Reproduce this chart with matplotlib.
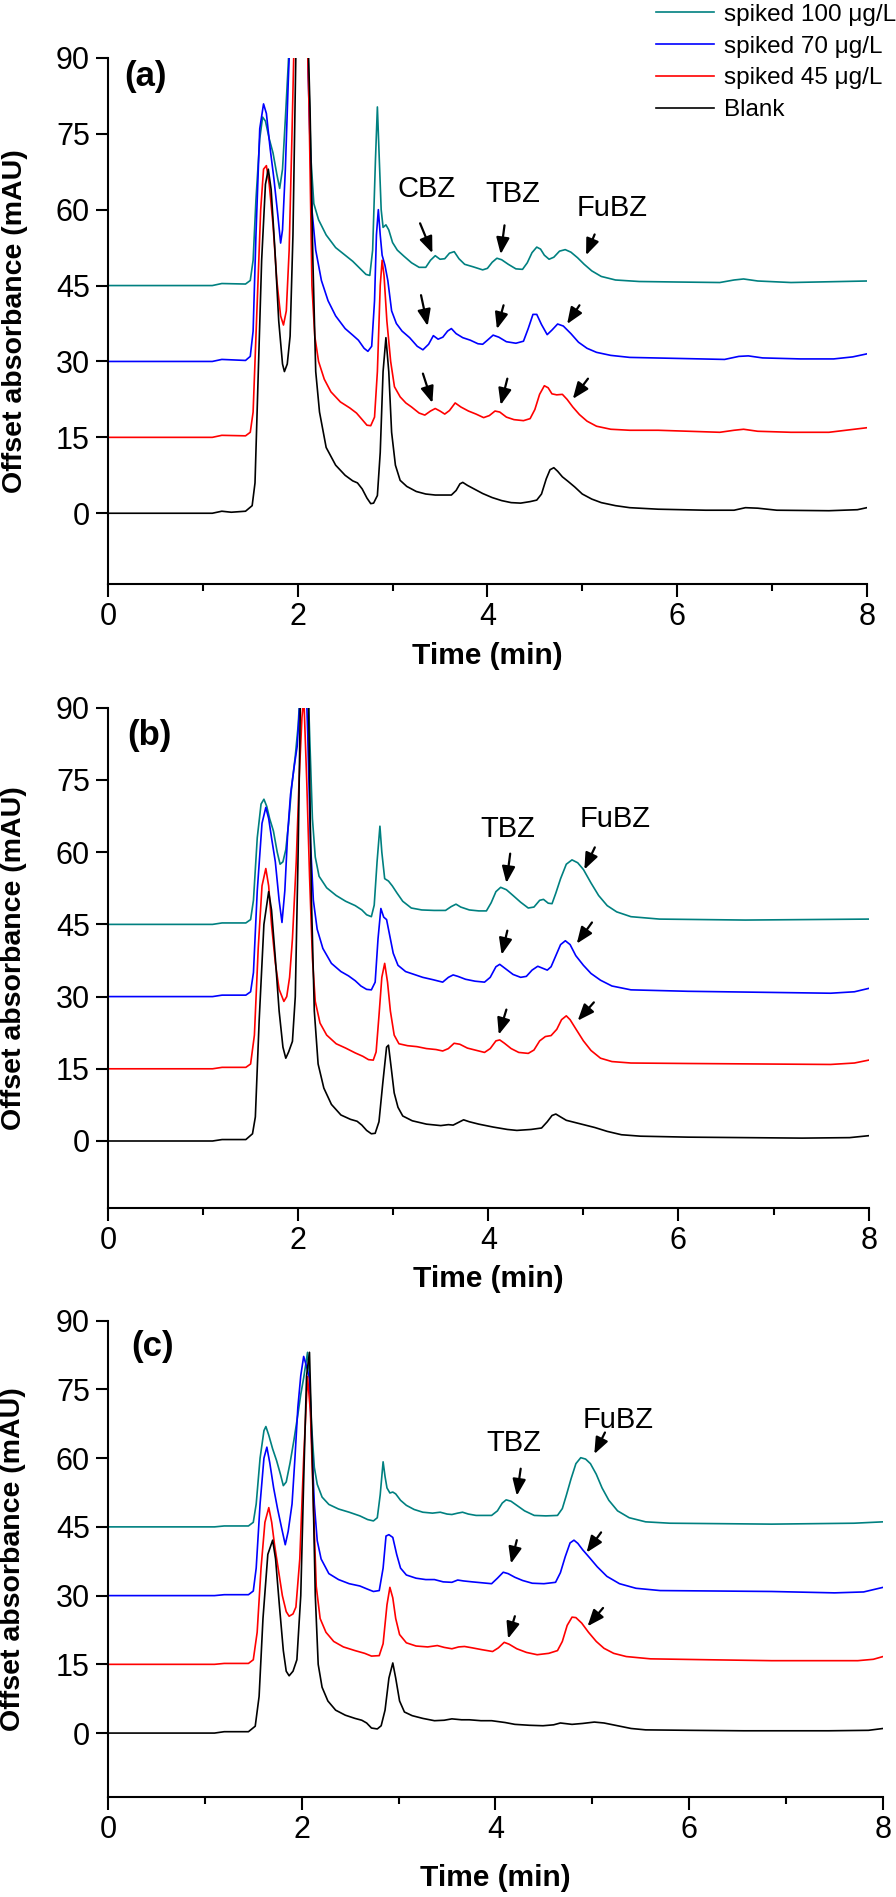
import sys

import matplotlib
matplotlib.use("Agg")
import matplotlib.pyplot as plt
from matplotlib.ticker import MultipleLocator

plt.rcParams['font.family'] = ['Liberation Sans', 'DejaVu Sans']

# ---- series names and colours ----
series_names = ["spiked 100 \u03bcg/L", "spiked 70 \u03bcg/L", "spiked 45 \u03bcg/L", "Blank"]
series_colors = ["#008080", "#0000ff", "#ff0000", "#000000"]

# ---- panel (a): (time min, offset absorbance mAU) ----
a_blank = [(0, 0), (1.1, 0), (1.2, 0.4), (1.3, 0.2), (1.45, 0.4), (1.52, 1.5), (1.55, 6), (1.58, 25), (1.62, 50),
           (1.66, 65), (1.69, 68), (1.72, 64), (1.76, 52), (1.8, 38), (1.84, 29.5), (1.86, 28), (1.89, 29.5),
           (1.92, 35), (1.95, 55), (1.98, 90), (2.04, 120), (2.1, 100), (2.13, 80), (2.16, 50), (2.19, 28),
           (2.23, 20), (2.3, 13), (2.4, 9.5), (2.5, 7.5), (2.58, 6.4), (2.63, 6.0), (2.68, 4.8), (2.73, 3),
           (2.77, 1.9), (2.8, 2.0), (2.84, 3.5), (2.87, 12), (2.9, 28), (2.93, 34.7), (2.96, 28), (2.99, 16),
           (3.03, 9.5), (3.08, 6.5), (3.15, 5.3), (3.25, 4.3), (3.35, 3.8), (3.45, 3.6), (3.62, 3.6), (3.67, 4.5),
           (3.71, 5.8), (3.74, 6.1), (3.79, 5.5), (3.86, 4.8), (3.95, 3.9), (4.05, 3.1), (4.15, 2.5), (4.25, 2.1),
           (4.35, 2.0), (4.45, 2.3), (4.52, 2.6), (4.57, 3.8), (4.62, 6.8), (4.66, 8.6), (4.7, 9.0), (4.74, 8.3),
           (4.79, 7.2), (4.85, 6.3), (4.92, 5.2), (5.0, 3.8), (5.1, 2.8), (5.2, 2.1), (5.35, 1.5), (5.5, 1.1),
           (5.8, 0.8), (6.3, 0.6), (6.6, 0.6), (6.72, 1.1), (6.85, 1.0), (7.05, 0.6), (7.6, 0.5), (7.9, 0.7),
           (8.0, 1.1)]
a_45 = [(0, 15), (1.1, 15), (1.2, 15.4), (1.45, 15.3), (1.5, 16), (1.53, 20), (1.57, 40), (1.61, 60), (1.64, 68),
        (1.67, 68.7), (1.7, 65), (1.74, 57), (1.78, 46), (1.82, 39), (1.85, 37.2), (1.88, 40), (1.91, 52), (1.94, 75),
        (1.97, 100), (2.02, 120), (2.08, 110), (2.12, 80), (2.15, 45), (2.18, 35), (2.22, 30), (2.28, 26.5),
        (2.35, 24), (2.45, 22), (2.55, 20.8), (2.62, 19.8), (2.68, 18.5), (2.73, 17.4), (2.77, 17.3), (2.81, 19),
        (2.84, 28), (2.87, 45), (2.89, 50), (2.91, 47), (2.94, 38), (2.98, 30), (3.02, 25), (3.08, 23), (3.14, 21.8),
        (3.2, 21), (3.28, 19.8), (3.34, 19.4), (3.4, 20.2), (3.45, 20.7), (3.5, 20.2), (3.55, 19.6), (3.6, 20.3),
        (3.66, 21.8), (3.72, 21), (3.8, 20.2), (3.88, 19.6), (3.96, 18.9), (4.02, 19.3), (4.08, 20.2), (4.13, 20.0),
        (4.2, 19.0), (4.28, 18.5), (4.38, 18.3), (4.45, 18.7), (4.5, 20.5), (4.55, 23.5), (4.6, 25.2), (4.64, 24.8),
        (4.68, 23.6), (4.73, 23.4), (4.79, 23.5), (4.84, 22.5), (4.9, 21), (4.97, 19.5), (5.05, 18.2), (5.15, 17.2),
        (5.3, 16.6), (5.5, 16.4), (5.8, 16.4), (6.45, 16.0), (6.6, 16.4), (6.7, 16.6), (6.85, 16.2), (7.2, 16.0),
        (7.6, 16.0), (8.0, 16.9)]
a_70 = [(0, 30), (1.1, 30), (1.2, 30.4), (1.45, 30.2), (1.5, 31), (1.53, 36), (1.56, 55), (1.6, 76), (1.64, 80.9),
        (1.67, 79), (1.71, 72), (1.75, 66), (1.79, 59), (1.82, 53.4), (1.84, 56), (1.87, 68), (1.9, 85), (1.93, 100),
        (2.0, 120), (2.08, 110), (2.12, 80), (2.15, 60), (2.19, 52), (2.25, 46), (2.32, 42), (2.4, 39), (2.5, 36.5),
        (2.58, 35.2), (2.64, 34.2), (2.7, 32.6), (2.74, 32), (2.78, 33), (2.81, 42), (2.83, 55), (2.85, 60),
        (2.87, 55), (2.89, 51), (2.92, 49), (2.95, 46), (2.99, 40), (3.04, 37.5), (3.1, 36), (3.18, 34.7), (3.26, 33),
        (3.32, 32.3), (3.38, 33.4), (3.43, 35.1), (3.48, 34.4), (3.53, 34.8), (3.58, 36), (3.62, 36.5), (3.67, 35.5),
        (3.74, 34.7), (3.82, 34.2), (3.9, 33.5), (3.95, 33.4), (4.0, 34.2), (4.06, 35.2), (4.12, 34.8), (4.2, 33.9),
        (4.3, 33.6), (4.38, 34), (4.43, 36.5), (4.48, 39.3), (4.52, 39.3), (4.57, 37.3), (4.63, 35.3), (4.68, 36.2),
        (4.74, 37.4), (4.8, 37), (4.88, 35.5), (4.96, 33.8), (5.05, 32.6), (5.15, 31.8), (5.3, 31.2), (5.5, 30.8),
        (6.0, 30.6), (6.5, 30.4), (6.65, 31.0), (6.75, 31.1), (6.9, 30.7), (7.3, 30.5), (7.65, 30.5), (7.85, 30.9),
        (8.0, 31.5)]
a_100 = [(0, 45), (1.1, 45), (1.2, 45.4), (1.45, 45.3), (1.5, 46), (1.53, 50), (1.56, 62), (1.6, 74), (1.63, 78.3),
         (1.66, 77.5), (1.7, 74), (1.74, 71.2), (1.78, 67), (1.81, 64.2), (1.84, 68), (1.87, 78), (1.9, 88.6),
         (1.93, 100), (2.0, 120), (2.08, 110), (2.11, 90), (2.14, 70), (2.17, 61.2), (2.22, 58), (2.3, 55),
         (2.4, 52.5), (2.5, 51), (2.58, 49.8), (2.65, 48.5), (2.72, 47.2), (2.76, 47), (2.79, 52), (2.82, 70),
         (2.84, 80.3), (2.86, 70), (2.88, 60), (2.9, 56.5), (2.93, 57), (2.96, 56), (3.0, 53.5), (3.05, 52),
         (3.12, 50.8), (3.2, 49.5), (3.28, 48.6), (3.35, 48.6), (3.4, 50), (3.45, 50.9), (3.5, 50.2), (3.55, 50.3),
         (3.6, 51.4), (3.65, 51.7), (3.7, 50.3), (3.76, 49.2), (3.85, 48.7), (3.95, 48.1), (4.0, 48.4), (4.05, 49.6),
         (4.1, 50.4), (4.15, 50.1), (4.22, 49.2), (4.3, 48.3), (4.37, 48.2), (4.42, 49.5), (4.47, 51.5), (4.52, 52.6),
         (4.56, 52.2), (4.6, 51), (4.65, 50.2), (4.7, 50.6), (4.76, 51.8), (4.82, 52.1), (4.88, 51.6), (4.95, 50.5),
         (5.02, 49.2), (5.1, 47.9), (5.2, 46.8), (5.35, 46.1), (5.6, 45.8), (6.0, 45.7), (6.45, 45.6), (6.6, 46.1),
         (6.7, 46.3), (6.85, 45.9), (7.2, 45.6), (8.0, 45.9)]

# ---- panel (b) ----
b_blank = [(0, 0), (1.1, 0), (1.2, 0.3), (1.45, 0.3), (1.52, 1.5), (1.55, 5), (1.59, 25), (1.64, 45), (1.69, 51.8),
           (1.72, 48), (1.76, 38), (1.8, 27), (1.84, 19.5), (1.87, 17.2), (1.9, 18.5), (1.94, 20.7), (1.97, 30),
           (2.0, 60), (2.03, 100), (2.07, 120), (2.11, 90), (2.14, 50), (2.17, 27), (2.21, 16), (2.27, 11),
           (2.35, 7.6), (2.45, 5.4), (2.55, 4.5), (2.62, 4.1), (2.67, 3.3), (2.72, 2.2), (2.77, 1.5), (2.81, 1.6),
           (2.85, 4), (2.89, 12), (2.93, 19.5), (2.95, 19.9), (2.98, 15), (3.01, 10), (3.05, 7), (3.1, 5.2),
           (3.2, 4.2), (3.35, 3.5), (3.5, 3.2), (3.58, 3.4), (3.63, 3.3), (3.68, 3.8), (3.74, 4.4), (3.8, 4.0),
           (3.9, 3.5), (4.05, 2.9), (4.2, 2.4), (4.3, 2.2), (4.45, 2.4), (4.56, 2.7), (4.62, 4.0), (4.67, 5.3),
           (4.71, 5.6), (4.76, 5.0), (4.82, 4.3), (4.9, 3.9), (5.0, 3.4), (5.12, 2.8), (5.25, 2.0), (5.4, 1.3),
           (5.6, 1.0), (6.1, 0.8), (7.3, 0.6), (7.8, 0.7), (8.0, 1.1)]
b_45 = [(0, 15), (1.1, 15), (1.2, 15.3), (1.45, 15.3), (1.5, 16), (1.54, 22), (1.58, 40), (1.62, 53), (1.66, 56.6),
        (1.69, 53), (1.72, 45), (1.76, 37), (1.8, 31.5), (1.85, 29), (1.88, 30), (1.91, 34), (1.94, 42), (1.98, 58),
        (2.01, 75), (2.04, 88), (2.06, 92), (2.09, 75), (2.12, 55), (2.15, 38), (2.18, 29), (2.23, 24.5), (2.3, 22),
        (2.4, 20.2), (2.5, 19.3), (2.6, 18.3), (2.68, 17.6), (2.74, 16.9), (2.79, 16.8), (2.82, 18.5), (2.85, 26),
        (2.88, 34), (2.91, 36.9), (2.94, 33), (2.97, 27), (3.01, 22), (3.06, 20.2), (3.15, 19.8), (3.25, 19.6),
        (3.35, 19.2), (3.45, 19.0), (3.52, 18.7), (3.58, 19.2), (3.64, 20.3), (3.7, 20.1), (3.78, 19.3), (3.88, 18.8),
        (3.96, 18.4), (4.02, 19.2), (4.08, 20.8), (4.12, 21), (4.17, 20.3), (4.24, 19.2), (4.32, 18.4), (4.42, 18.2),
        (4.48, 18.9), (4.54, 20.8), (4.6, 21.7), (4.66, 21.9), (4.72, 23.2), (4.77, 25.2), (4.82, 26), (4.86, 25.2),
        (4.92, 23.3), (5.0, 20.8), (5.08, 18.8), (5.18, 17.2), (5.3, 16.5), (5.5, 16.2), (6.1, 16.1), (7.6, 15.9),
        (7.85, 16.2), (8.0, 16.8)]
b_70 = [(0, 30), (1.1, 30), (1.2, 30.3), (1.45, 30.3), (1.5, 31), (1.53, 35), (1.57, 52), (1.62, 66), (1.66, 69.3),
        (1.69, 67), (1.72, 63), (1.76, 58), (1.8, 50), (1.83, 45.4), (1.86, 52), (1.89, 64), (1.92, 72), (1.96, 78),
        (1.99, 82), (2.03, 95), (2.06, 110), (2.1, 85), (2.13, 62), (2.16, 50), (2.2, 44), (2.26, 40), (2.35, 36.9),
        (2.45, 35.2), (2.53, 34.3), (2.6, 33.3), (2.66, 32.2), (2.72, 31.5), (2.77, 31.4), (2.81, 33), (2.84, 42),
        (2.87, 48.3), (2.9, 46.5), (2.93, 46), (2.96, 43), (3.0, 39), (3.05, 36.5), (3.13, 35.2), (3.22, 34.6),
        (3.31, 34), (3.42, 33.5), (3.52, 33), (3.58, 34), (3.63, 34.5), (3.68, 34.2), (3.76, 33.6), (3.86, 33.2),
        (3.96, 33), (4.02, 34), (4.08, 36.2), (4.12, 36.7), (4.18, 35.8), (4.26, 34.6), (4.34, 34), (4.4, 34.2),
        (4.46, 35.5), (4.52, 36.3), (4.57, 35.9), (4.62, 35.5), (4.66, 36.2), (4.71, 38.5), (4.76, 40.8), (4.81, 41.6),
        (4.86, 40.8), (4.92, 38.5), (5.0, 36.5), (5.08, 34.8), (5.18, 33.4), (5.3, 32.2), (5.5, 31.4), (6.1, 31.1),
        (7.6, 30.7), (7.85, 31), (8.0, 31.7)]
b_100 = [(0, 45), (1.1, 45), (1.2, 45.3), (1.45, 45.3), (1.5, 46), (1.53, 50), (1.57, 63), (1.61, 70), (1.64, 71),
         (1.67, 69.5), (1.7, 67), (1.74, 64.4), (1.78, 60), (1.81, 57.5), (1.84, 58), (1.87, 60.5), (1.9, 66),
         (1.93, 73.2), (1.97, 80), (2.0, 86.3), (2.04, 100), (2.08, 110), (2.12, 85), (2.15, 67), (2.18, 59),
         (2.22, 55), (2.3, 52.6), (2.4, 51), (2.5, 49.8), (2.6, 48.9), (2.67, 48), (2.72, 47), (2.77, 46.6), (2.8, 49),
         (2.83, 58), (2.86, 65.4), (2.88, 60), (2.91, 54.5), (2.95, 54), (2.99, 53), (3.04, 51.5), (3.1, 49.8),
         (3.19, 48.4), (3.3, 48), (3.43, 47.9), (3.55, 47.9), (3.61, 48.7), (3.66, 49.2), (3.71, 48.6), (3.8, 48),
         (3.9, 47.8), (3.98, 47.8), (4.03, 49.5), (4.08, 51.8), (4.13, 52.7), (4.19, 52.2), (4.26, 51), (4.34, 49.6),
         (4.42, 48.4), (4.48, 48.6), (4.54, 50), (4.58, 50.2), (4.63, 49.4), (4.67, 49.3), (4.71, 51.5), (4.76, 54.5),
         (4.82, 57.5), (4.88, 58.4), (4.94, 57.8), (5.0, 56.4), (5.08, 53.6), (5.16, 51), (5.25, 48.9), (5.35, 47.6),
         (5.5, 46.6), (5.8, 46.1), (6.7, 45.9), (8.0, 46.1)]

# ---- panel (c) ----
c_blank = [(0, 0), (1.1, 0), (1.2, 0.3), (1.45, 0.3), (1.52, 1.5), (1.56, 8), (1.6, 25), (1.65, 39), (1.7, 42.1),
           (1.73, 38), (1.77, 27.7), (1.81, 18), (1.84, 13.5), (1.87, 12.5), (1.91, 13.5), (1.95, 16), (1.99, 30),
           (2.02, 55), (2.05, 78), (2.08, 83.1), (2.11, 60), (2.14, 30), (2.17, 15), (2.21, 10), (2.27, 7), (2.35, 5),
           (2.45, 3.9), (2.55, 3.2), (2.62, 2.8), (2.67, 2.2), (2.72, 1.1), (2.78, 0.9), (2.82, 1.6), (2.86, 5),
           (2.9, 12), (2.94, 15.3), (2.97, 12), (3.01, 7), (3.06, 4.6), (3.14, 3.8), (3.25, 3.2), (3.37, 2.7),
           (3.47, 2.8), (3.55, 3.1), (3.65, 2.9), (3.73, 2.9), (3.85, 2.7), (3.96, 2.7), (4.1, 2.3), (4.2, 1.9),
           (4.35, 1.7), (4.49, 1.6), (4.6, 1.8), (4.67, 2.2), (4.79, 1.9), (4.9, 2.1), (5.02, 2.4), (5.12, 2.2),
           (5.26, 1.6), (5.4, 1.0), (5.55, 0.7), (6.0, 0.6), (6.56, 0.5), (7.44, 0.5), (7.85, 0.6), (8.0, 1.0)]
c_45 = [(0, 15), (1.1, 15), (1.2, 15.2), (1.45, 15.2), (1.5, 16), (1.54, 22), (1.58, 36), (1.62, 46), (1.66, 49.2),
        (1.69, 46), (1.72, 41), (1.76, 35.5), (1.8, 30), (1.84, 26.5), (1.87, 25.5), (1.91, 26), (1.94, 27.5),
        (1.98, 38), (2.02, 60), (2.06, 77.8), (2.09, 70), (2.12, 50), (2.15, 32), (2.19, 25), (2.25, 22), (2.33, 20),
        (2.43, 18.8), (2.55, 18), (2.65, 17.4), (2.72, 16.8), (2.8, 16.9), (2.84, 19.5), (2.88, 28), (2.91, 31.8),
        (2.94, 29.5), (2.97, 25), (3.01, 21.5), (3.08, 19.7), (3.18, 19), (3.3, 18.8), (3.4, 19.1), (3.47, 18.7),
        (3.55, 18.4), (3.62, 18.8), (3.68, 18.9), (3.76, 18.6), (3.86, 18.2), (3.97, 17.8), (4.03, 18.6), (4.09, 19.8),
        (4.14, 19.4), (4.22, 18.4), (4.32, 17.6), (4.43, 17.1), (4.55, 17.4), (4.64, 18), (4.69, 20), (4.74, 23.5),
        (4.79, 25.3), (4.83, 25.2), (4.89, 24), (4.96, 22), (5.04, 20), (5.12, 18.5), (5.22, 17.4), (5.35, 16.7),
        (5.6, 16.2), (6.2, 16.0), (6.85, 15.8), (7.74, 15.8), (7.9, 16.1), (8.0, 16.7)]
c_70 = [(0, 30), (1.1, 30), (1.2, 30.2), (1.45, 30.2), (1.5, 31), (1.53, 36), (1.57, 50), (1.61, 60), (1.64, 62.4),
        (1.67, 59), (1.71, 53.5), (1.75, 49), (1.79, 45), (1.83, 41.1), (1.86, 44), (1.9, 50), (1.93, 60), (1.96, 71.1),
        (1.99, 78), (2.02, 82.2), (2.05, 80), (2.08, 77.3), (2.1, 65), (2.13, 50), (2.16, 42), (2.2, 38), (2.28, 34.8),
        (2.38, 33.5), (2.49, 32.6), (2.6, 32.1), (2.68, 31.4), (2.74, 30.9), (2.8, 31.1), (2.84, 36), (2.87, 43),
        (2.9, 43.3), (2.94, 42.7), (2.98, 39), (3.02, 36), (3.08, 34.5), (3.18, 33.8), (3.28, 33.5), (3.37, 33.5),
        (3.46, 33), (3.55, 32.9), (3.61, 33.4), (3.67, 33.2), (3.76, 33.0), (3.86, 32.8), (3.96, 32.6), (4.02, 33.8),
        (4.08, 35.1), (4.13, 34.8), (4.2, 34), (4.28, 33.3), (4.38, 32.7), (4.5, 32.6), (4.62, 32.9), (4.67, 35),
        (4.72, 38.5), (4.77, 41.5), (4.81, 42.1), (4.85, 41.4), (4.9, 40), (4.97, 38.3), (5.05, 36.3), (5.15, 34.2),
        (5.28, 32.6), (5.45, 31.6), (5.7, 31.1), (6.3, 31.0), (6.85, 30.9), (7.5, 30.6), (7.8, 30.8), (8.0, 31.8)]
c_100 = [(0, 45), (1.1, 45), (1.2, 45.2), (1.45, 45.2), (1.5, 46), (1.53, 50), (1.57, 60), (1.61, 66), (1.63, 66.9),
         (1.66, 65), (1.7, 62), (1.74, 59.5), (1.78, 56.5), (1.81, 54), (1.84, 54.8), (1.88, 59), (1.92, 64),
         (1.96, 69.5), (1.99, 73.9), (2.02, 77.5), (2.06, 83.1), (2.08, 78), (2.1, 67.6), (2.13, 58), (2.16, 54.3),
         (2.21, 51.5), (2.28, 49.9), (2.38, 48.9), (2.49, 48.2), (2.6, 47.4), (2.68, 46.6), (2.74, 46.3), (2.78, 47),
         (2.81, 52), (2.84, 59.2), (2.86, 56), (2.88, 53.5), (2.91, 52.4), (2.94, 52.6), (2.97, 52.2), (3.02, 50.8),
         (3.08, 49.7), (3.16, 48.8), (3.25, 48.2), (3.35, 48), (3.43, 48.2), (3.5, 47.8), (3.55, 47.7), (3.61, 48),
         (3.66, 48.2), (3.72, 47.8), (3.8, 47.5), (3.96, 47.5), (4.02, 48.5), (4.07, 50.2), (4.11, 50.9), (4.16, 50.6),
         (4.22, 49.7), (4.3, 48.5), (4.4, 47.5), (4.52, 47.4), (4.64, 47.5), (4.69, 49), (4.73, 51.8), (4.78, 55.5),
         (4.83, 58.8), (4.88, 60.1), (4.93, 59.8), (4.98, 58.8), (5.04, 56.5), (5.1, 53.5), (5.17, 50.8), (5.26, 48.5),
         (5.38, 47), (5.55, 46.1), (5.8, 45.8), (6.85, 45.6), (7.7, 45.8), (8.0, 46.1)]

# ---- analyte labels (text, x, y) and arrows (x_tail, y_tail, x_head, y_head) ----
a_labels = [("CBZ", 3.36, 64.0), ("TBZ", 4.27, 63.0), ("FuBZ", 5.31, 60.3)]
a_arrows = [(3.29, 57.3, 3.42, 51.4), (4.18, 56.9, 4.14, 51.2), (5.13, 55.1, 5.04, 51.0),
            (3.30, 43.1, 3.37, 37.0), (4.17, 41.1, 4.10, 36.4), (4.97, 41.1, 4.84, 37.4),
            (3.32, 27.6, 3.42, 21.8), (4.21, 26.6, 4.14, 21.4), (5.06, 26.6, 4.90, 22.6)]
b_labels = [("TBZ", 4.20, 64.9), ("FuBZ", 5.33, 66.9)]
b_arrows = [(4.23, 59.7, 4.19, 53.6), (5.12, 61.0, 5.01, 56.4),
            (4.20, 43.7, 4.14, 38.7), (5.09, 45.4, 4.93, 41.0),
            (4.19, 27.3, 4.11, 22.1), (5.11, 28.8, 4.94, 25.0)]
c_labels = [("TBZ", 4.19, 63.2), ("FuBZ", 5.27, 68.3)]
c_arrows = [(4.26, 57.7, 4.22, 51.8), (5.13, 65.6, 5.02, 60.9),
            (4.22, 42.1, 4.16, 37.0), (5.09, 43.8, 4.94, 39.4),
            (4.20, 25.5, 4.13, 20.6), (5.11, 27.3, 4.95, 23.3)]


def draw_panel(ax, traces, labels, arrows, letter, letter_pos, xlabel_y):
    # traces are ordered like series_names: 100, 70, 45, blank
    lines = []
    for pts, color, name in zip(traces, series_colors, series_names):
        t, y = zip(*pts)
        ln, = ax.plot(t, y, color=color, lw=1.2, label=name)
        lines.append(ln)

    for text, x, y in labels:
        ax.text(x, y, text, ha='center', va='center', fontsize=21)
    for x0, y0, x1, y1 in arrows:
        ax.annotate('', xy=(x1, y1), xytext=(x0, y0),
                    arrowprops=dict(arrowstyle='-|>,head_length=0.55,head_width=0.22',
                                    color='black', lw=1.6, mutation_scale=18,
                                    shrinkA=0, shrinkB=0))

    ax.text(letter_pos[0], letter_pos[1], letter, transform=ax.transAxes,
            ha='center', va='center', fontsize=25, fontweight='bold')

    ax.set_xlim(0, 8)
    ax.set_ylim(-14, 90)
    ax.set_xticks([0, 2, 4, 6, 8])
    ax.xaxis.set_minor_locator(MultipleLocator(1))
    ax.set_yticks([0, 15, 30, 45, 60, 75, 90])

    ax.spines['top'].set_visible(False)
    ax.spines['right'].set_visible(False)
    ax.spines['left'].set_linewidth(1.5)
    ax.spines['bottom'].set_linewidth(1.5)
    ax.tick_params(axis='both', which='major', direction='out', length=9, width=1.5,
                   labelsize=22, pad=4)
    ax.tick_params(axis='x', which='minor', direction='out', length=5, width=1.5)

    ax.set_xlabel("Time (min)", fontsize=21.5, fontweight='bold', va='center')
    ax.xaxis.set_label_coords(0.5, xlabel_y)
    ax.set_ylabel("Offset absorbance (mAU)", fontsize=20.5, fontweight='bold', va='center')
    ax.yaxis.set_label_coords(-0.123, 0.5)
    return lines


def main():
    fig = plt.figure(figsize=(8.96, 18.97), dpi=100)

    ax_a = fig.add_axes([0.1205, 0.6921, 0.847, 0.2774])
    ax_b = fig.add_axes([0.1205, 0.3630, 0.849, 0.2639])
    ax_c = fig.add_axes([0.1205, 0.0526, 0.865, 0.2512])

    lines = draw_panel(ax_a, [a_100, a_70, a_45, a_blank], a_labels, a_arrows,
                       "(a)", (0.049, 0.965), -0.136)
    draw_panel(ax_b, [b_100, b_70, b_45, b_blank], b_labels, b_arrows,
               "(b)", (0.055, 0.945), -0.142)
    draw_panel(ax_c, [c_100, c_70, c_45, c_blank], c_labels, c_arrows,
               "(c)", (0.058, 0.945), -0.169)

    # legend sits above panel (a) in the top right corner
    fig.legend(handles=lines, loc='upper right', bbox_to_anchor=(1.0, 0.998),
               frameon=False, fontsize=17.5, handlelength=2.4, handletextpad=0.4,
               labelspacing=0.4, borderpad=0.0, borderaxespad=0.0)

    fig.savefig("out.png", dpi=100)


if __name__ == "__main__":
    sys.exit(main())
